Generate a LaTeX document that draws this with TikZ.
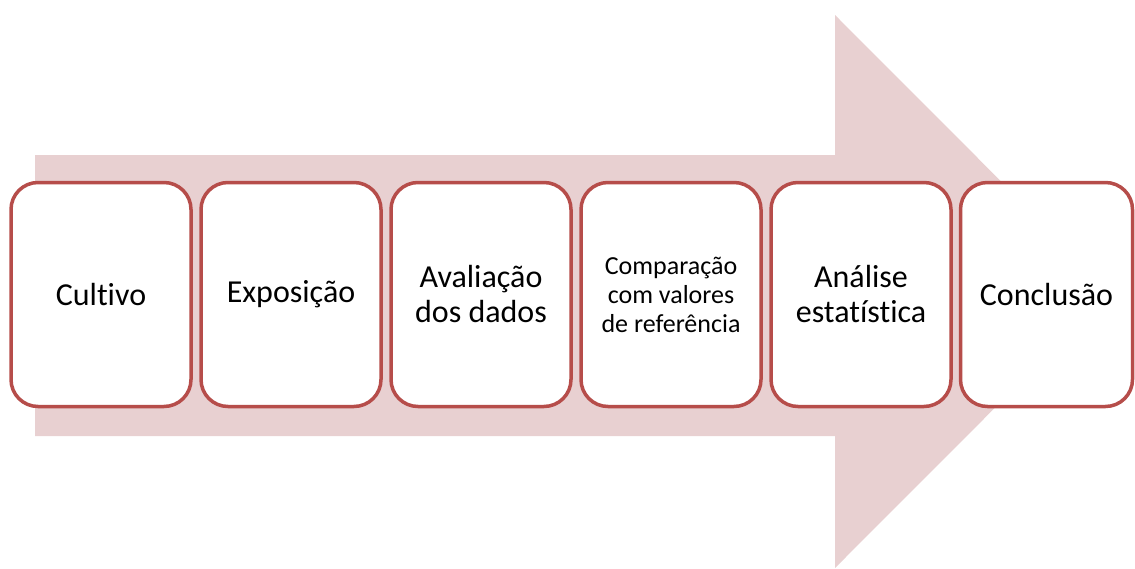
\documentclass[tikz,border=0pt]{standalone}
\usepackage{fontspec}
\setmainfont{Carlito}[Ligatures=NoCommon]
\definecolor{arrowfill}{HTML}{E8D0D1}
\definecolor{boxline}{HTML}{B64D4A}
\begin{document}
\begin{tikzpicture}[x=1pt,y=-1pt,
  stepbox/.style={draw=boxline, line width=3.5pt, fill=white, rounded corners=27pt,
    minimum width=180pt, minimum height=224pt, inner sep=0pt, align=center,
    font=\fontsize{32}{35}\selectfont},
  smalltext/.style={font=\fontsize{26}{29}\selectfont}]
\useasboundingbox (0,0) rectangle (1135,568);
% big arrow
\fill[arrowfill] (35,155) -- (835,155) -- (835,15) -- (1111,291.5) -- (835,568) -- (835,436) -- (35,436) -- cycle;
% steps
\node[stepbox] (s1) at (101,294.5) {Cultivo};
\node[stepbox] (s2) at (291,294.5) {Exposição};
\node[stepbox] (s3) at (481,294.5) {Avaliação\\dos dados};
\node[stepbox, smalltext] (s4) at (671,294.5) {Comparação\\com valores\\de referência};
\node[stepbox] (s5) at (861,294.5) {Análise\\estatística};
\node[stepbox, minimum width=172pt] (s6) at (1046.5,294.5) {Conclusão};
\end{tikzpicture}
\end{document}
